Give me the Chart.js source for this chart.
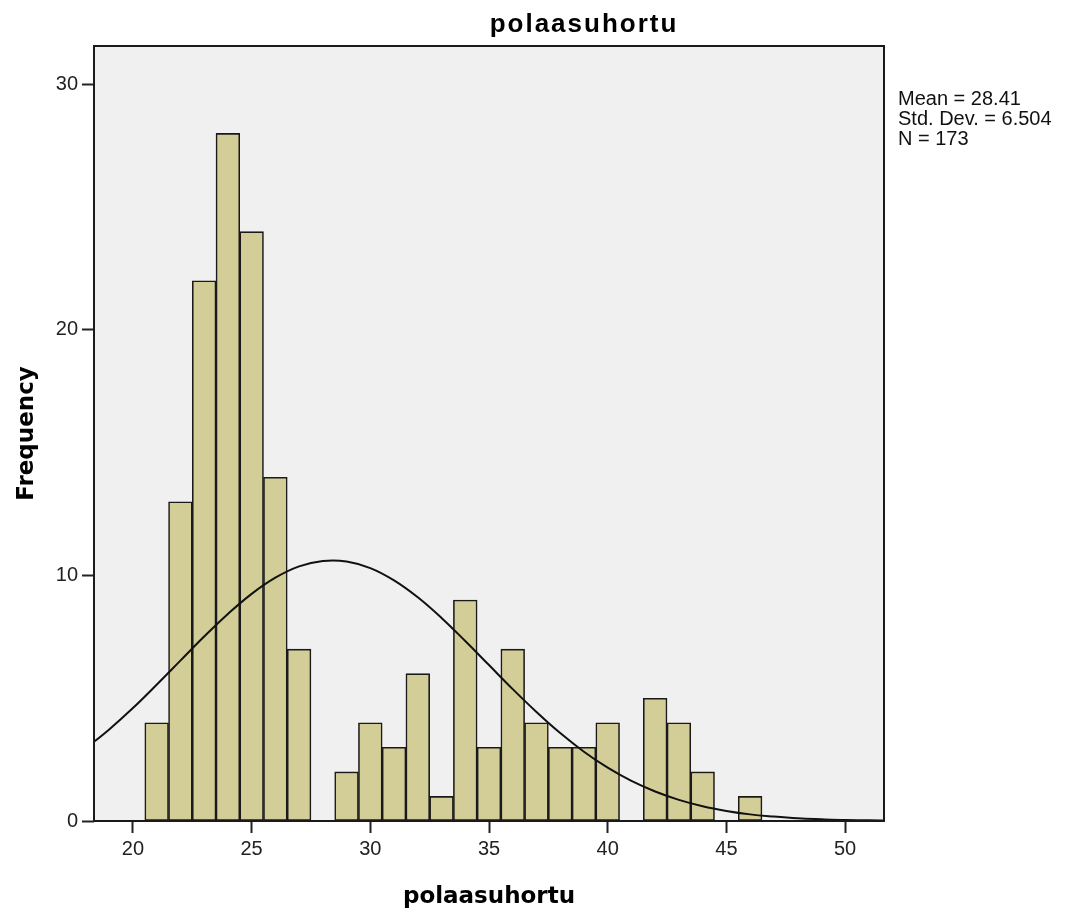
<!DOCTYPE html>
<html>
<head>
<meta charset="utf-8">
<script src="https://cdn.jsdelivr.net/npm/chart.js@4.4.1/dist/chart.umd.min.js"></script>
<style>
  html, body { margin: 0; padding: 0; background: #ffffff; }
  #wrap { width: 1070px; height: 914px; position: relative; }
</style>
</head>
<body>
<div id="wrap"><canvas id="histChart"></canvas></div>
<script>
// bin centres (bin width 1) and frequencies
const binCenters = [21, 22, 23, 24, 25, 26, 27, 28, 29, 30, 31, 32, 33, 34, 35, 36, 37, 38, 39, 40, 41, 42, 43, 44, 45, 46];
const frequencies = [4, 13, 22, 28, 24, 14, 7, 0, 2, 4, 3, 6, 1, 9, 3, 7, 4, 3, 3, 4, 0, 5, 4, 2, 0, 1];

// normal curve at each whole value
const curveX = [18, 19, 20, 21, 22, 23, 24, 25, 26, 27, 28, 29, 30, 31, 32, 33, 34, 35, 36, 37, 38, 39, 40, 41, 42, 43, 44, 45, 46, 47, 48, 49, 50, 51, 52];
const curveY = [2.95, 3.73, 4.6, 5.55, 6.53, 7.51, 8.43, 9.25, 9.91, 10.37, 10.59, 10.57, 10.3, 9.8, 9.11, 8.27, 7.33, 6.35, 5.37, 4.44, 3.58, 2.82, 2.17, 1.63, 1.2, 0.86, 0.6, 0.41, 0.27, 0.18, 0.11, 0.07, 0.04, 0.03, 0.01];

const xTicks = [20, 25, 30, 35, 40, 45, 50];
const yTicks = [0, 10, 20, 30];
const statsLines = ["Mean = 28.41", "Std. Dev. = 6.504", "N = 173"];
const chartTitle = "polaasuhortu";
const xTitle = "polaasuhortu";
const yTitle = "Frequency";

// plot background, frame and all text
const spssDecor = {
  id: "spssDecor",
  beforeDraw(chart) {
    const { ctx, chartArea: a } = chart;
    ctx.save();
    ctx.fillStyle = "#f0f0f0";
    ctx.fillRect(a.left, a.top, a.right - a.left, a.bottom - a.top);
    ctx.restore();
  },
  afterDraw(chart) {
    const { ctx, chartArea: a } = chart;
    ctx.save();
    ctx.strokeStyle = "#1a1a1a";
    ctx.lineWidth = 2;
    ctx.strokeRect(a.left, a.top, a.right - a.left, a.bottom - a.top);

    ctx.fillStyle = "#000";
    ctx.textAlign = "center";
    ctx.textBaseline = "alphabetic";
    ctx.font = "bold 26px 'Liberation Sans', Arial, sans-serif";
    ctx.letterSpacing = "2px";
    ctx.fillText(chartTitle, 584, 32);
    ctx.letterSpacing = "0px";

    ctx.font = "bold 23px 'DejaVu Sans', sans-serif";
    ctx.fillText(xTitle, (a.left + a.right) / 2, 903);

    ctx.save();
    ctx.translate(27, (a.top + a.bottom) / 2);
    ctx.rotate(-Math.PI / 2);
    ctx.textBaseline = "middle";
    ctx.fillText(yTitle, 0, 0);
    ctx.restore();

    ctx.fillStyle = "#111";
    ctx.textAlign = "left";
    ctx.textBaseline = "middle";
    ctx.font = "20px 'Liberation Sans', Arial, sans-serif";
    statsLines.forEach((t, i) => ctx.fillText(t, 898, 99 + i * 20));
    ctx.restore();
  }
};

const barData = binCenters.map((c, i) => ({ x: c, y: frequencies[i] > 0 ? frequencies[i] : null }));
const lineData = curveX.map((x, i) => ({ x: x, y: curveY[i] }));

const tickFont = { family: "'Liberation Sans', Arial, sans-serif", size: 20 };

new Chart(document.getElementById("histChart"), {
  type: "bar",
  data: {
    datasets: [
      {
        type: "line",
        data: lineData,
        borderColor: "#111",
        borderWidth: 2,
        pointRadius: 0,
        tension: 0.4,
        order: 0,
      },
      {
        type: "bar",
        data: barData,
        backgroundColor: "#d3ce97",
        borderColor: "#1a1a1a",
        borderWidth: 1.6,
        borderSkipped: false,
        barPercentage: 1,
        categoryPercentage: 1,
        order: 1,
      },
    ],
  },
  options: {
    responsive: true,
    maintainAspectRatio: false,
    animation: false,
    layout: { padding: { top: 46, right: 186, bottom: 0, left: 0 } },
    plugins: {
      legend: { display: false },
      tooltip: { enabled: false },
    },
    scales: {
      x: {
        type: "linear",
        offset: false,
        min: 18.36,
        max: 51.64,
        afterFit(scale) { scale.height = 93; },
        afterBuildTicks(scale) { scale.ticks = xTicks.map(v => ({ value: v })); },
        ticks: { font: tickFont, color: "#222", padding: 4 },
        grid: { display: true, offset: false, drawOnChartArea: false, drawTicks: true, tickLength: 12, tickWidth: 2, tickColor: "#222" },
        border: { display: false },
      },
      y: {
        min: 0,
        max: 31.56,
        afterFit(scale) { scale.width = 94; },
        afterBuildTicks(scale) { scale.ticks = yTicks.map(v => ({ value: v })); },
        ticks: { font: tickFont, color: "#222", padding: 4 },
        grid: { display: true, drawOnChartArea: false, drawTicks: true, tickLength: 12, tickWidth: 2, tickColor: "#222" },
        border: { display: false },
      },
    },
  },
  plugins: [spssDecor],
});
</script>
</body>
</html>
